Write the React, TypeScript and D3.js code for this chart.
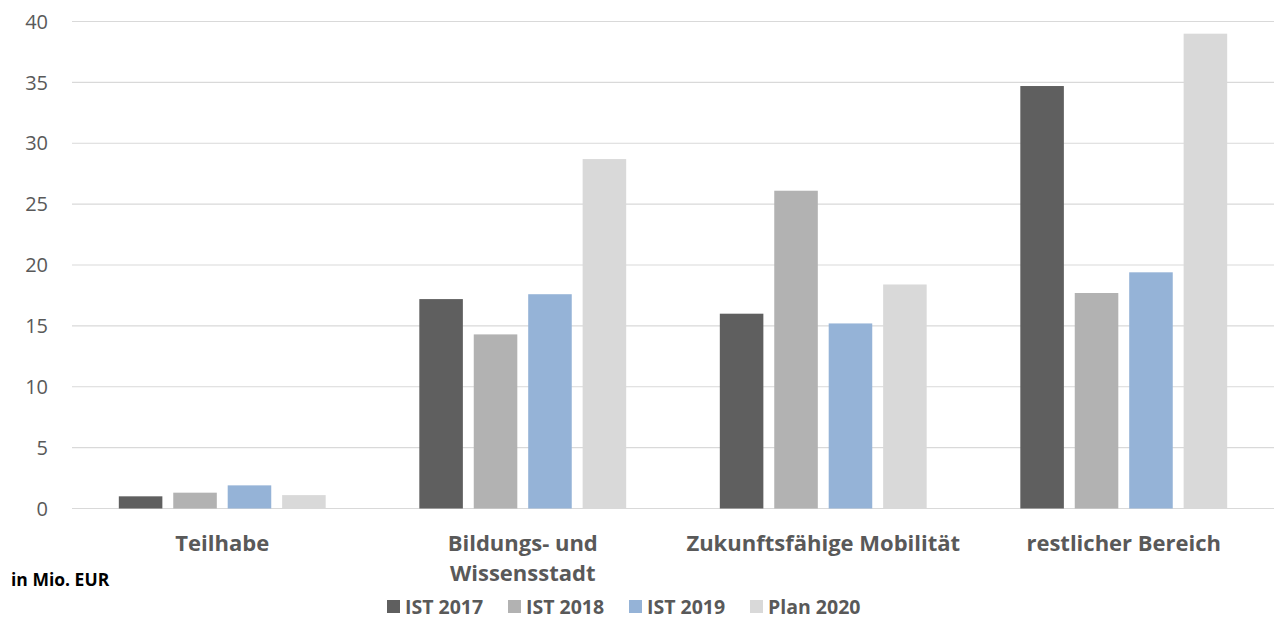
import React from "react";
import * as d3 from "d3";

const categories = ["Teilhabe", "Bildungs- und Wissensstadt", "Zukunftsfähige Mobilität", "restlicher Bereich"];
const categoryLines = [["Teilhabe"], ["Bildungs- und", "Wissensstadt"], ["Zukunftsfähige Mobilität"], ["restlicher Bereich"]];
const seriesNames = ["IST 2017", "IST 2018", "IST 2019", "Plan 2020"];
const seriesColors = ["#5f5f5f", "#b2b2b2", "#95b3d7", "#d9d9d9"];
const ist2017 = [1.0, 17.2, 16.0, 34.7];
const ist2018 = [1.3, 14.3, 26.1, 17.7];
const ist2019 = [1.9, 17.6, 15.2, 19.4];
const plan2020 = [1.1, 28.7, 18.4, 39.0];
const seriesValues = [ist2017, ist2018, ist2019, plan2020];
const yTicks = [0, 5, 10, 15, 20, 25, 30, 35, 40];

const W = 1279;
const H = 621;
const FONT = "'Open Sans', sans-serif";

export default function App() {
  const x0 = d3.scaleBand<string>().domain(categories).range([72, 1274]).paddingInner(0).paddingOuter(0);
  const x1 = d3
    .scaleBand<number>()
    .domain(d3.range(seriesNames.length))
    .range([0, x0.bandwidth()])
    .paddingInner(0.2)
    .paddingOuter(0.86);
  const y = d3.scaleLinear().domain([0, 40]).range([508.5, 21.5]);

  const legendX = [387, 508, 629, 750];

  return (
    <svg width={W} height={H} style={{ position: "absolute", left: 0, top: 0, background: "#fff" }}>
      {yTicks.map((t) => (
        <g key={t}>
          <line x1={72} x2={1274} y1={y(t)} y2={y(t)} stroke="#d9d9d9" strokeWidth={1.2} />
          <text x={48} y={y(t)} dy="0.36em" textAnchor="end" fontFamily={FONT} fontSize={20} fill="#595959">
            {t}
          </text>
        </g>
      ))}
      {categories.map((c, ci) => (
        <g key={c} transform={`translate(${x0(c)},0)`}>
          {seriesValues.map((vals, si) => (
            <rect
              key={si}
              x={x1(si)}
              y={y(vals[ci])}
              width={x1.bandwidth()}
              height={y(0) - y(vals[ci])}
              fill={seriesColors[si]}
            />
          ))}
          {categoryLines[ci].map((ln, li) => (
            <text
              key={li}
              x={x0.bandwidth() / 2}
              y={551 + li * 30}
              textAnchor="middle"
              fontFamily={FONT}
              fontWeight="bold"
              fontSize={22}
              fill="#595959"
            >
              {ln}
            </text>
          ))}
        </g>
      ))}
      <text x={11} y={586} fontFamily={FONT} fontWeight="bold" fontSize={17.5} fill="#000">
        in Mio. EUR
      </text>
      {seriesNames.map((s, i) => (
        <g key={s}>
          <rect x={legendX[i]} y={600} width={13} height={13} fill={seriesColors[i]} />
          <text x={legendX[i] + 18} y={614} fontFamily={FONT} fontWeight="bold" fontSize={19.5} fill="#595959">
            {s}
          </text>
        </g>
      ))}
    </svg>
  );
}
